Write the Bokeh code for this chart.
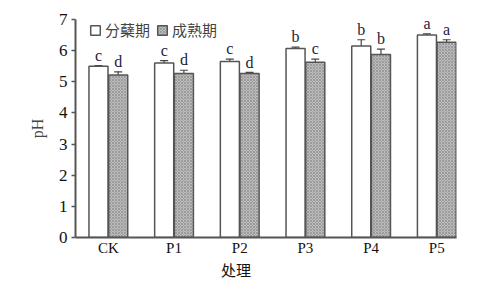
from bokeh.plotting import figure
from bokeh.models import ColumnDataSource, Whisker, Legend, LegendItem, FixedTicker, Range1d
from bokeh.core.properties import value
from bokeh.embed import file_html
from bokeh.resources import INLINE

categories = ["CK", "P1", "P2", "P3", "P4", "P5"]
tiller = [5.50, 5.60, 5.65, 6.07, 6.15, 6.50]
tiller_err = [0.02, 0.08, 0.08, 0.04, 0.20, 0.04]
mature = [5.22, 5.27, 5.27, 5.63, 5.88, 6.27]
mature_err = [0.10, 0.10, 0.03, 0.10, 0.17, 0.08]
tiller_letters = ["c", "c", "c", "b", "b", "a"]
mature_letters = ["d", "d", "d", "c", "b", "a"]
series_names = ["分蘖期", "成熟期"]

off = 0.15
bw = 0.29
xs = list(range(len(categories)))
x_t = [x - off for x in xs]
x_m = [x + off for x in xs]

src_t = ColumnDataSource(dict(x=x_t, top=tiller, up=[v + e for v, e in zip(tiller, tiller_err)],
                              lo=[v - e for v, e in zip(tiller, tiller_err)], lab=tiller_letters,
                              ly=[v + e + 0.06 for v, e in zip(tiller, tiller_err)]))
src_m = ColumnDataSource(dict(x=x_m, top=mature, up=[v + e for v, e in zip(mature, mature_err)],
                              lo=[v - e for v, e in zip(mature, mature_err)], lab=mature_letters,
                              ly=[v + e + 0.06 for v, e in zip(mature, mature_err)]))

p = figure(width=482, height=282, output_backend="svg", toolbar_location=None,
           x_range=Range1d(-0.5, 5.3), y_range=Range1d(0, 7),
           min_border_left=75, min_border_right=26, min_border_top=19, min_border_bottom=44)
p.outline_line_color = None
p.grid.visible = False
p.background_fill_color = "white"

edge = "#555555"
r1 = p.vbar(x="x", top="top", width=bw, source=src_t, fill_color="white",
            line_color=edge, line_width=1.5)
r2 = p.vbar(x="x", top="top", width=bw, source=src_m, fill_color="#bdbdbd",
            line_color=edge, line_width=1.5, hatch_pattern="diagonal_cross",
            hatch_color="#858585", hatch_scale=3, hatch_weight=0.6)

for s in (src_t, src_m):
    w = Whisker(base="x", upper="up", lower="lo", source=s, line_color="#444444", line_width=1.2)
    w.upper_head.size = 8
    w.lower_head.size = 8
    w.upper_head.line_color = "#444444"
    w.lower_head.line_color = "#444444"
    w.upper_head.line_width = 1.2
    w.lower_head.line_width = 1.2
    p.add_layout(w)
    p.text(x="x", y="ly", text="lab", source=s, text_align="center", text_baseline="bottom",
           text_font=value("Liberation Serif"), text_font_size="16px", text_color="#1c1c3a")

# axes
p.xaxis.ticker = FixedTicker(ticks=xs)
p.xaxis.major_label_overrides = {i: c for i, c in enumerate(categories)}
p.xaxis.minor_tick_line_color = None
p.xaxis.major_tick_out = 0
p.xaxis.major_tick_in = 0
p.xaxis.major_label_text_font = "Liberation Serif"
p.xaxis.major_label_text_font_size = "15px"
p.xaxis.major_label_text_color = "#111111"
p.xaxis.major_label_standoff = 2
p.xaxis.axis_label = "处理\u3000\u3000\u3000\u3000"
p.xaxis.axis_label_text_font = "Noto Sans CJK SC"
p.xaxis.axis_label_text_font_style = "normal"
p.xaxis.axis_label_text_font_size = "15px"
p.xaxis.axis_label_text_color = "#111111"
p.xaxis.axis_label_standoff = 0

p.yaxis.ticker = FixedTicker(ticks=list(range(8)))
p.yaxis.minor_tick_line_color = None
p.yaxis.major_tick_out = 4
p.yaxis.major_tick_in = 0
p.yaxis.major_label_text_font = "Liberation Serif"
p.yaxis.major_label_text_font_size = "17px"
p.yaxis.major_label_text_color = "#111111"
p.yaxis.major_label_standoff = 4
p.yaxis.axis_label = "pH"
p.yaxis.axis_label_text_font = "Liberation Serif"
p.yaxis.axis_label_text_font_style = "normal"
p.yaxis.axis_label_text_font_size = "16px"
p.yaxis.axis_label_standoff = 10

for ax in (p.xaxis, p.yaxis):
    ax.axis_line_color = edge
    ax.axis_line_width = 2
    ax.major_tick_line_width = 1.5
p.yaxis.major_tick_line_color = edge
p.xaxis.major_tick_line_color = None

legend = Legend(items=[LegendItem(label=series_names[0], renderers=[r1]),
                       LegendItem(label=series_names[1], renderers=[r2])],
                orientation="horizontal", location=(14, 197))
legend.border_line_color = None
legend.background_fill_alpha = 0
legend.label_text_font = "Noto Sans CJK SC"
legend.label_text_font_size = "15px"
legend.glyph_width = 12
legend.glyph_height = 12
legend.spacing = 6
legend.padding = 0
legend.margin = 0
legend.label_standoff = 4
p.add_layout(legend)

open("out.html", "w").write(file_html(p, INLINE))
